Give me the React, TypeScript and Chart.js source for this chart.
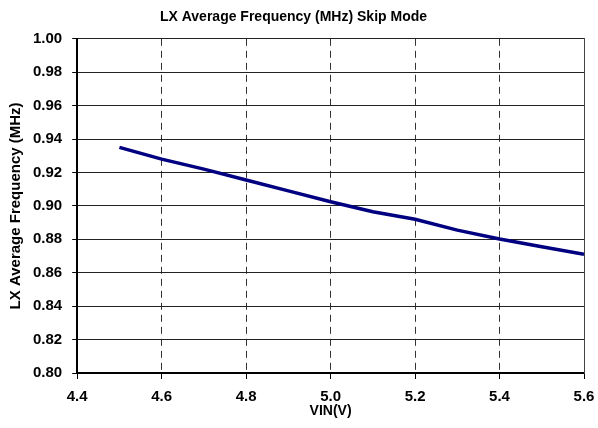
import React, { useEffect, useRef } from "react";
import { Chart, registerables } from "chart.js";

Chart.register(...registerables);

const vin = [4.5, 4.6, 4.7, 4.8, 4.9, 5.0, 5.1, 5.2, 5.3, 5.4, 5.5, 5.6];
const freq = [0.935, 0.928, 0.922, 0.9155, 0.909, 0.9025, 0.8965, 0.892, 0.8855, 0.8802, 0.8756, 0.871];

const chartTitle = "LX Average Frequency (MHz) Skip Mode";
const xTitle = "VIN(V)";
const yTitle = "LX Average Frequency (MHz)";

const FONT = "'Liberation Sans', Arial, sans-serif";

export default function App() {
  const ref = useRef<HTMLCanvasElement | null>(null);
  useEffect(() => {
    if (!ref.current) return;
    const chart = new Chart(ref.current, {
      type: "line",
      data: {
        datasets: [
          {
            data: vin.map((v, i) => ({ x: v, y: freq[i] })),
            borderColor: "#000080",
            borderWidth: 3.5,
            pointRadius: 0,
            tension: 0,
            fill: false,
          },
        ],
      },
      options: {
        responsive: false,
        animation: false,
        layout: { padding: { left: 3, right: 14, top: 0, bottom: 10 } },
        plugins: {
          legend: { display: false },
          tooltip: { enabled: false },
          title: {
            display: true,
            text: chartTitle,
            color: "#000",
            font: { family: FONT, size: 14, weight: "bold" },
            padding: { top: 9, bottom: 13 },
          },
        },
        scales: {
          x: {
            type: "linear",
            min: 4.4,
            max: 5.6,
            ticks: {
              stepSize: 0.2,
              color: "#000",
              padding: 1,
              font: { family: FONT, size: 15, weight: "bold", lineHeight: 0.8 },
              callback: (v: any) => Number(v).toFixed(1),
            },
            grid: {
              color: "#333",
              lineWidth: 1,
              tickColor: "#000",
              tickLength: 17,
              tickBorderDash: [5, 60],
            },
            border: { color: "#000", width: 2, dash: [7, 5] },
            title: {
              display: true,
              text: xTitle,
              color: "#000",
              font: { family: FONT, size: 14, weight: "bold", lineHeight: 1 },
              padding: { top: 0, bottom: 0 },
            },
          },
          y: {
            min: 0.8,
            max: 1.0,
            ticks: {
              stepSize: 0.02,
              color: "#000",
              padding: 10,
              font: { family: FONT, size: 15, weight: "bold" },
              callback: (v: any) => Number(v).toFixed(2),
            },
            grid: { color: "#222", lineWidth: 1, tickColor: "#000", tickLength: 5 },
            border: { color: "#000", width: 2 },
            title: {
              display: true,
              text: yTitle,
              color: "#000",
              font: { family: FONT, size: 15, weight: "bold" },
              padding: { top: 3.5, bottom: -1.5 },
            },
          },
          y2: {
            position: "right",
            min: 0,
            max: 1,
            ticks: { display: false },
            grid: { drawOnChartArea: false, drawTicks: false },
            border: { color: "#444", width: 1 },
          },
        },
      },
    } as any);
    return () => chart.destroy();
  }, []);
  return (
    <div style={{ position: "fixed", left: 0, top: 0, width: 598, height: 428, background: "#fff" }}>
      <canvas ref={ref} width={598} height={428} />
    </div>
  );
}
